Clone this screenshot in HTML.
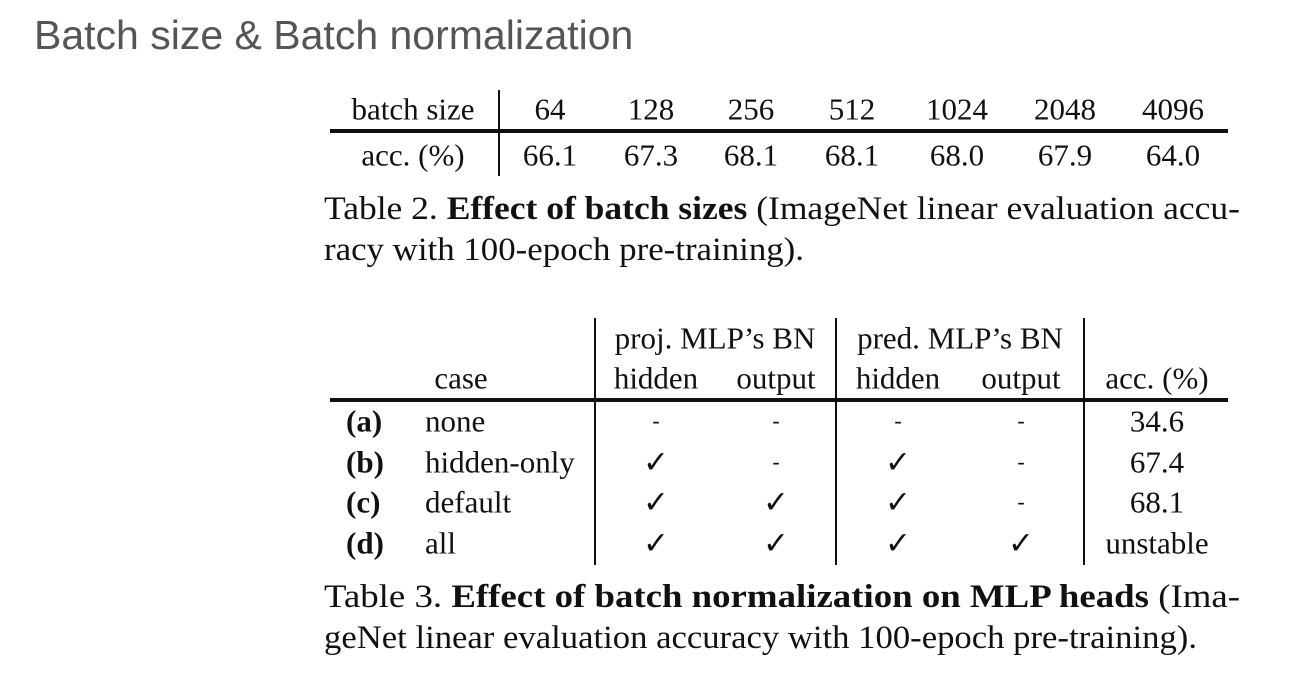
<!DOCTYPE html>
<html><head><meta charset="utf-8"><style>
body{margin:0;width:1308px;height:676px;background:#fff;position:relative;overflow:hidden;font-family:"Liberation Serif",serif;color:#111}
.t{position:absolute;font-size:31px;white-space:nowrap;transform:translate(-50%,-50%);line-height:1}
.l{position:absolute;font-size:31px;white-space:nowrap;transform:translateY(-50%);line-height:1}
.h{position:absolute;background:#111}
.cap{position:absolute;left:324px;font-size:33px;line-height:41px;white-space:nowrap}
.cap span{display:inline-block;transform-origin:0 0}
</style></head><body>
<div style="position:absolute;left:34px;top:12px;font-family:'Liberation Sans',sans-serif;font-size:41px;color:#555">Batch size &amp; Batch normalization</div>

<div>
<div class="h" style="left:330px;top:129px;width:898px;height:4px"></div>
<div class="h" style="left:498px;top:90px;width:2px;height:86px"></div>
<div class="t" style="left:413px;top:109px">batch size</div>
<div class="t" style="left:413px;top:155px">acc. (%)</div>
<div id="t2"></div>
</div>
<div class="cap" style="top:189px"><span data-w="916">Table 2. <b>Effect of batch sizes</b> (ImageNet linear evaluation accu-</span><br><span data-w="480">racy with 100-epoch pre-training).</span></div>

<div>
<div class="h" style="left:330px;top:398px;width:898px;height:4px"></div>
<div class="h" style="left:594px;top:318px;width:2px;height:247px"></div>
<div class="h" style="left:835px;top:318px;width:2px;height:247px"></div>
<div class="h" style="left:1083px;top:318px;width:2px;height:247px"></div>
<div class="t" style="left:715px;top:338px">proj. MLP’s BN</div>
<div class="t" style="left:960px;top:338px">pred. MLP’s BN</div>
<div class="t" style="left:461px;top:378px">case</div>
<div class="t" style="left:656px;top:378px">hidden</div>
<div class="t" style="left:776px;top:378px">output</div>
<div class="t" style="left:898px;top:378px">hidden</div>
<div class="t" style="left:1021px;top:378px">output</div>
<div class="t" style="left:1157px;top:378px">acc. (%)</div>
<div id="t3"></div>
</div>
<div class="cap" style="top:577px"><span data-w="916">Table 3. <b>Effect of batch normalization on MLP heads</b> (Ima-</span><br><span data-w="873">geNet linear evaluation accuracy with 100-epoch pre-training).</span></div>

<script>
const batchSizes=["64","128","256","512","1024","2048","4096"];
const accs=["66.1","67.3","68.1","68.1","68.0","67.9","64.0"];
const cols2=[550,651,751,852,957,1065,1173];
const t2=document.getElementById('t2');
batchSizes.forEach((b,i)=>{
 let d=document.createElement('div');d.className='t';d.style.left=cols2[i]+'px';d.style.top='109px';d.textContent=b;
 
 
 t2.appendChild(d);
 let e=document.createElement('div');e.className='t';e.style.left=cols2[i]+'px';e.style.top='155px';e.textContent=accs[i];
 
 
 t2.appendChild(e);
});
const ids=["(a)","(b)","(c)","(d)"];
const cases=["none","hidden-only","default","all"];
const marks=[["-","-","-","-"],["✓","-","✓","-"],["✓","✓","✓","-"],["✓","✓","✓","✓"]];
const acc3=["34.6","67.4","68.1","unstable"];
const rowsY=[421,462,502,543];
const mcols=[656,776,898,1021];
const t3=document.getElementById('t3');
ids.forEach((id,r)=>{
 let a=document.createElement('div');a.className='l';a.style.left='346px';a.style.top=rowsY[r]+'px';a.innerHTML='<b>'+id+'</b>';
 
 
 t3.appendChild(a);
 let c=document.createElement('div');c.className='l';c.style.left='425px';c.style.top=rowsY[r]+'px';c.textContent=cases[r];
 
 
 t3.appendChild(c);
 marks[r].forEach((m,k)=>{
  let x=document.createElement('div');x.className='t';x.style.left=mcols[k]+'px';x.style.top=rowsY[r]+'px';x.textContent=m;
  if(m==='-')x.style.fontSize='22px';
  else x.style.fontWeight='300';
  
  
  t3.appendChild(x);
 });
 let v=document.createElement('div');v.className='t';v.style.left='1157px';v.style.top=rowsY[r]+'px';v.textContent=acc3[r];
 
 
 t3.appendChild(v);
});
document.querySelectorAll('.cap span').forEach(sp=>{
 const s=(+sp.dataset.w)/sp.getBoundingClientRect().width;
 sp.style.transform='scaleX('+s+')';
});
</script>
</body></html>
